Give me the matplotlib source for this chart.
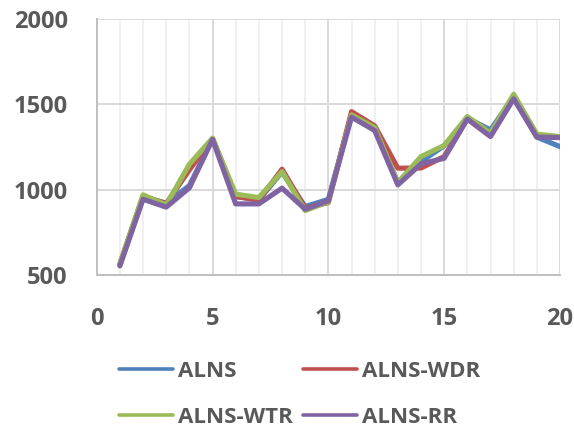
import matplotlib
matplotlib.use("Agg")
from matplotlib import pyplot as plt
from matplotlib.ticker import MultipleLocator
import numpy as np

# ---- data
x = np.arange(1, 21)
alns = [560, 960, 922, 1025, 1300, 961, 941, 1105, 902, 945,
        1440, 1365, 1040, 1166, 1258, 1420, 1351, 1546, 1309, 1253]
alns_wdr = [565, 962, 920, 1117, 1300, 961, 941, 1121, 893, 926,
            1458, 1375, 1127, 1128, 1195, 1420, 1322, 1546, 1318, 1308]
alns_wtr = [570, 971, 912, 1150, 1303, 975, 955, 1107, 879, 930,
            1439, 1365, 1043, 1195, 1260, 1429, 1332, 1560, 1326, 1312]
alns_rr = [555, 945, 899, 1012, 1295, 918, 918, 1010, 887, 936,
           1426, 1347, 1029, 1152, 1185, 1414, 1312, 1533, 1309, 1306]

labels = ['ALNS', 'ALNS-WDR', 'ALNS-WTR', 'ALNS-RR']
colors = ['#4F81BD', '#C0504D', '#9BBB59', '#8064A2']

txt = '#595959'
plt.rcParams['font.family'] = ['Open Sans', 'DejaVu Sans']
plt.rcParams['font.weight'] = 'bold'

fig = plt.figure(figsize=(5.74, 4.32), dpi=100)
ax = fig.add_axes([0.1685, 0.3627, 0.8071, 0.5933])

lines = []
for ys, lab, c in zip([alns, alns_wdr, alns_wtr, alns_rr], labels, colors):
    l, = ax.plot(x, ys, color=c, lw=3.7, label=lab, solid_capstyle='round',
                 solid_joinstyle='round')
    lines.append(l)

ax.set_xlim(0, 20)
ax.set_ylim(500, 2000)
ax.xaxis.set_major_locator(MultipleLocator(5))
ax.xaxis.set_minor_locator(MultipleLocator(1))
ax.yaxis.set_major_locator(MultipleLocator(500))
ax.grid(which='minor', axis='x', color='#EEEEEE', lw=1.2)
ax.grid(which='major', axis='both', color='#D9D9D9', lw=1.4)
ax.set_axisbelow(True)

for s in ['top', 'right']:
    ax.spines[s].set_visible(False)
for s in ['left', 'bottom']:
    ax.spines[s].set_color('#BFBFBF')
    ax.spines[s].set_linewidth(1.4)

ax.tick_params(which='both', length=0)
ax.tick_params(axis='x', pad=23, labelsize=17, labelcolor=txt)
ax.tick_params(axis='y', pad=21, labelsize=17, labelcolor=txt)

# row-wise legend order like the original: ALNS, WDR / WTR, RR
order = [0, 2, 1, 3]
leg = fig.legend([lines[i] for i in order], [labels[i] for i in order],
                 loc='upper left', bbox_to_anchor=(0.2073, 0.165), ncol=2,
                 frameon=False, fontsize=16, handlelength=2.43,
                 handletextpad=0.23, columnspacing=0.45, labelspacing=1.12,
                 borderpad=0, borderaxespad=0)
for t in leg.get_texts():
    t.set_color(txt)
for h in leg.legend_handles:
    h.set_linewidth(2.6)

fig.savefig('out.png', dpi=100)
